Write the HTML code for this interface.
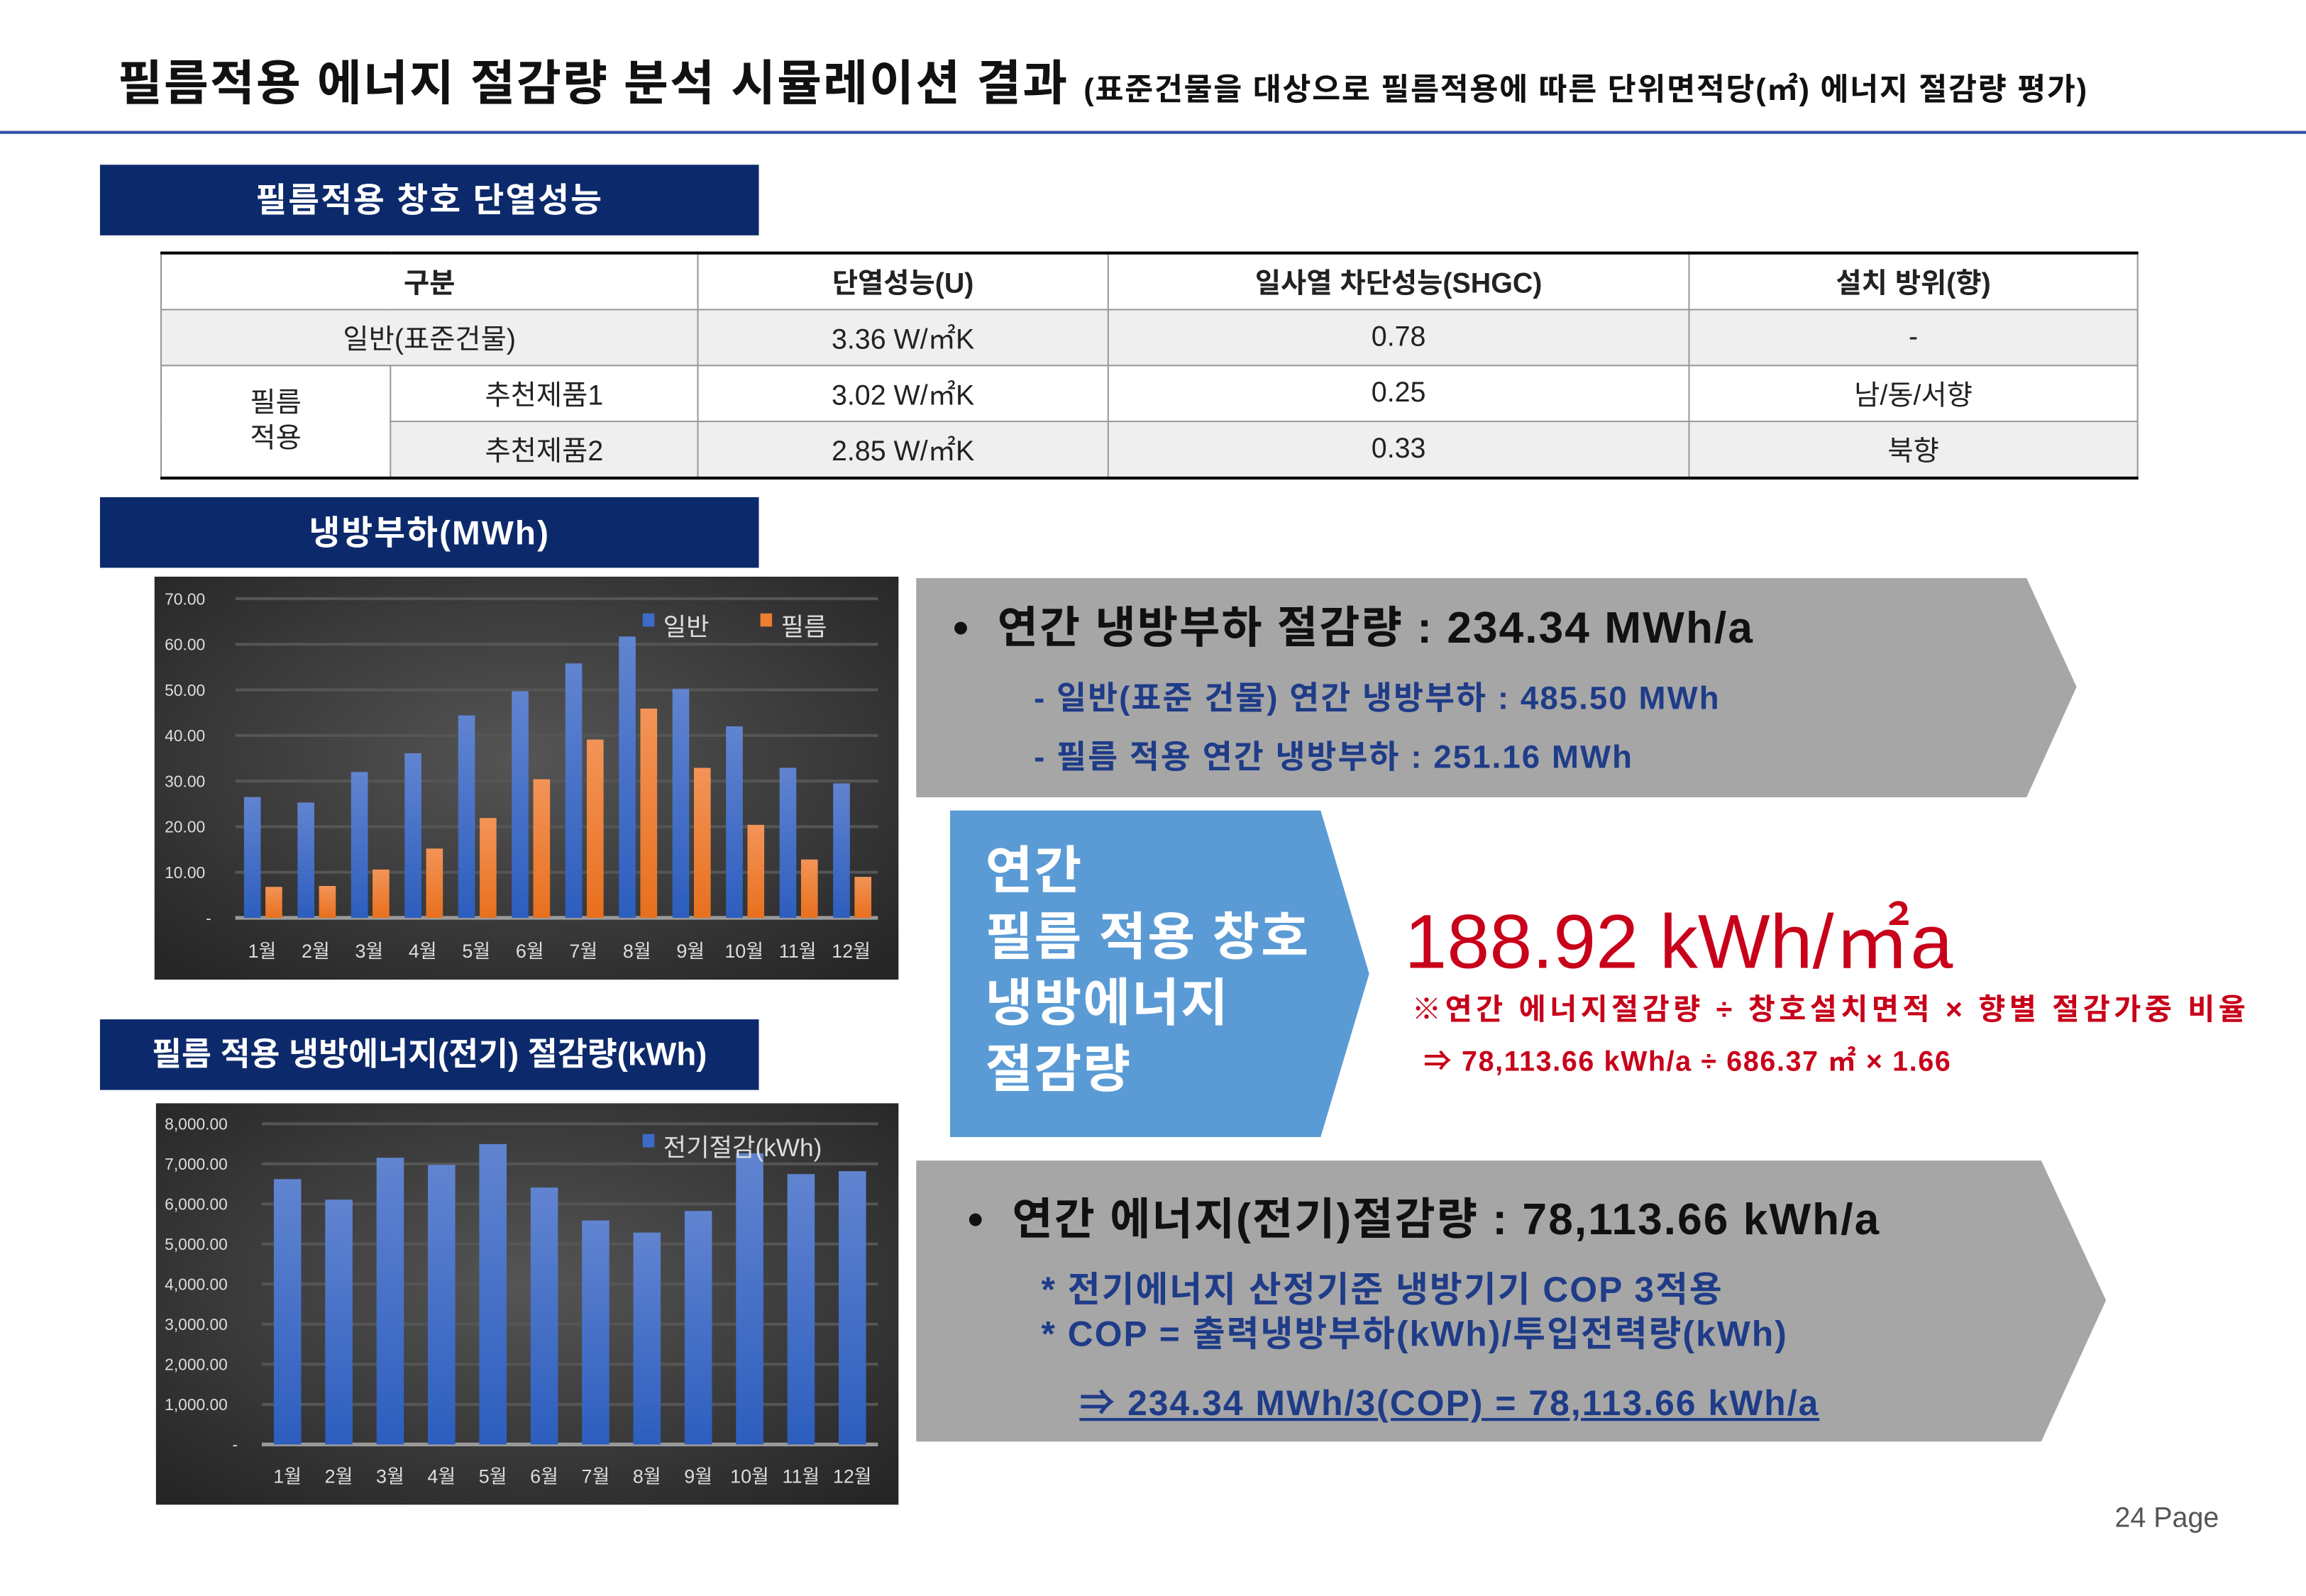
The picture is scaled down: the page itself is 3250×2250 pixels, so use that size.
<!DOCTYPE html>
<html><head><meta charset="utf-8">
<style>
html,body{margin:0;padding:0;background:#fff;}
body{width:3250px;height:2250px;overflow:hidden;position:relative;}
#page{position:absolute;left:0;top:0;width:1568px;height:1085px;transform-origin:0 0;transform:scale(2.0727,2.0737);font-family:"Liberation Sans","Noto Sans CJK KR",sans-serif;}
.abs{position:absolute;white-space:nowrap;}
.hdr{position:absolute;left:68px;width:448px;height:48px;background:#0c2a6b;color:#fff;font-weight:bold;font-size:23px;text-align:center;line-height:48px;letter-spacing:1px;}
table{border-collapse:collapse;position:absolute;left:109px;top:171px;width:1344px;table-layout:fixed;font-size:19px;color:#222;border-top:2px solid #000;border-bottom:2px solid #000;}
td{border:1px solid #999;text-align:center;height:37px;padding:0;}
tr.g td{background:#efefef;}
th{font-weight:bold;height:37px;border:1px solid #999;border-top:none;font-size:19px;padding:0;}
</style></head><body>
<div id="page">
<div class="abs" style="left:80px;top:30px;font-size:33px;font-weight:bold;color:#111;letter-spacing:1px;">필름적용 에너지 절감량 분석 시뮬레이션 결과 <span style="font-size:21px;letter-spacing:0.8px;">(표준건물을 대상으로 필름적용에 따른 단위면적당(㎡) 에너지 절감량 평가)</span></div>
<div class="abs" style="left:0;top:89px;width:1568px;height:2px;background:#2f4ea8;"></div>

<div class="hdr" style="top:112px;">필름적용 창호 단열성능</div>
<table>
<colgroup><col style="width:156px"><col style="width:209px"><col style="width:279px"><col style="width:395px"><col style="width:305px"></colgroup>
<tr><th colspan="2">구분</th><th>단열성능(U)</th><th>일사열 차단성능(SHGC)</th><th>설치 방위(향)</th></tr>
<tr class="g"><td colspan="2">일반(표준건물)</td><td>3.36 W/㎡K</td><td>0.78</td><td>-</td></tr>
<tr><td rowspan="2" style="line-height:24px;">필름<br>적용</td><td>추천제품1</td><td>3.02 W/㎡K</td><td>0.25</td><td>남/동/서향</td></tr>
<tr class="g"><td>추천제품2</td><td>2.85 W/㎡K</td><td>0.33</td><td>북향</td></tr>
</table>

<div class="hdr" style="top:338px;">냉방부하(MWh)</div>
<svg class="abs" id="c1" style="left:105px;top:392px;" width="506" height="274"></svg>

<div class="hdr" style="top:693px;font-size:22px;letter-spacing:0;">필름 적용 냉방에너지(전기) 절감량(kWh)</div>
<svg class="abs" id="c2" style="left:106px;top:750px;" width="505" height="273"></svg>

<svg class="abs" style="left:0;top:0;" width="1568" height="1085">
<polygon points="623,393 1378,393 1412,467 1378,542 623,542" fill="#a6a6a6"/>
<polygon points="646,551 898,551 931,662 898,773 646,773" fill="#5b9bd5"/>
<polygon points="623,789 1388,789 1432,884 1388,980 623,980" fill="#a6a6a6"/>
</svg>

<div class="abs" style="left:648px;top:402px;font-size:30px;font-weight:bold;color:#111;letter-spacing:1px;">•&nbsp; 연간 냉방부하 절감량 : 234.34 MWh/a</div>
<div class="abs" style="left:703px;top:457px;font-size:22px;font-weight:bold;color:#1f3c88;letter-spacing:1px;">- 일반(표준 건물) 연간 냉방부하 : 485.50 MWh</div>
<div class="abs" style="left:703px;top:497px;font-size:22px;font-weight:bold;color:#1f3c88;letter-spacing:1px;">- 필름 적용 연간 냉방부하 : 251.16 MWh</div>

<div class="abs" style="left:670px;top:570px;font-size:35px;line-height:45px;font-weight:bold;color:#fff;letter-spacing:1px;">연간<br>필름 적용 창호<br>냉방에너지<br>절감량</div>

<div class="abs" style="left:955px;top:598px;font-size:52px;color:#c8001a;">188.92 kWh/㎡a</div>
<div class="abs" style="left:960px;top:670px;font-size:20px;font-weight:bold;color:#c8001a;letter-spacing:2.6px;">※연간 에너지절감량 ÷ 창호설치면적 × 향별 절감가중 비율</div>
<div class="abs" style="left:968px;top:707px;font-size:19px;font-weight:bold;color:#c8001a;letter-spacing:0.8px;">⇒ 78,113.66 kWh/a ÷ 686.37 ㎡ × 1.66</div>

<div class="abs" style="left:658px;top:804px;font-size:30px;font-weight:bold;color:#111;letter-spacing:1px;">•&nbsp; 연간 에너지(전기)절감량 : 78,113.66 kWh/a</div>
<div class="abs" style="left:708px;top:863px;font-size:24px;font-weight:bold;color:#1f3c88;line-height:30px;letter-spacing:1px;">* 전기에너지 산정기준 냉방기기 COP 3적용<br>* COP = 출력냉방부하(kWh)/투입전력량(kWh)</div>
<div class="abs" style="left:734px;top:934px;font-size:24px;font-weight:bold;color:#1f3c88;text-decoration:underline;letter-spacing:1px;">⇒ 234.34 MWh/3(COP) = 78,113.66 kWh/a</div>

<div class="abs" style="left:1438px;top:1022px;font-size:19px;color:#555;">24 Page</div>
</div>

<script>
const months = ["1월","2월","3월","4월","5월","6월","7월","8월","9월","10월","11월","12월"];
const normalLoad = [26.5,25.3,32.0,36.1,44.4,49.7,55.8,61.7,50.2,42.0,32.9,29.5];
const filmLoad = [6.8,7.0,10.6,15.2,21.9,30.4,39.1,45.9,32.9,20.4,12.8,9.0];
const loadTicks = ["-","10.00","20.00","30.00","40.00","50.00","60.00","70.00"];
const elecSaving = [6620,6108,7153,6976,7495,6410,5588,5286,5825,7265,6745,6818];
const elecTicks = ["-","1,000.00","2,000.00","3,000.00","4,000.00","5,000.00","6,000.00","7,000.00","8,000.00"];

const NS="http://www.w3.org/2000/svg";
function mk(parent,tag,attrs,txt){const e=document.createElementNS(NS,tag);for(const k in attrs)e.setAttribute(k,attrs[k]);if(txt!==undefined)e.textContent=txt;parent.appendChild(e);return e;}
function defs(svg,id){
  const d=mk(svg,"defs",{});
  const bg=mk(d,"radialGradient",{id:id+"bg",cx:"0.5",cy:"0.45",r:"0.7"});
  mk(bg,"stop",{offset:"0","stop-color":"#555"});mk(bg,"stop",{offset:"1","stop-color":"#262626"});
  const b=mk(d,"linearGradient",{id:id+"blue",x1:0,y1:0,x2:0,y2:1});
  mk(b,"stop",{offset:"0","stop-color":"#6184d0"});mk(b,"stop",{offset:"1","stop-color":"#2d5ebe"});
  const o=mk(d,"linearGradient",{id:id+"orange",x1:0,y1:0,x2:0,y2:1});
  mk(o,"stop",{offset:"0","stop-color":"#f39458"});mk(o,"stop",{offset:"1","stop-color":"#e8701e"});
  mk(svg,"rect",{x:0,y:0,width:svg.getAttribute("width"),height:svg.getAttribute("height"),fill:"url(#"+id+"bg)"});
}
(function(){
  const svg=document.getElementById("c1");defs(svg,"a");
  const x0=55,x1=492,y0=232,yTop=15,max=70;
  const y=v=>y0-(v/max)*(y0-yTop);
  const gw=(x1-x0)/months.length;
  loadTicks.forEach((t,i)=>{const v=i*10;
    const l=mk(svg,"line",{x1:x0,x2:x1,y1:y(v),y2:y(v),stroke:i==0?"#9a9a9a":"#555","stroke-width":i==0?2.5:2});
    
    
    const tx=mk(svg,"text",{x:i==0?35:7,y:y(v)+4,"font-size":11,fill:"#ddd"},t);
    
    
  });
  months.forEach((m,i)=>{
    const gx=x0+i*gw;
    const r1=mk(svg,"rect",{x:gx+5.9,y:y(normalLoad[i]),width:11.4,height:y0-y(normalLoad[i]),fill:"url(#ablue)"});
    
    
    const r2=mk(svg,"rect",{x:gx+20.5,y:y(filmLoad[i]),width:11.4,height:y0-y(filmLoad[i]),fill:"url(#aorange)"});
    
    
    const t=mk(svg,"text",{x:gx+gw/2,y:259,"font-size":13,fill:"#ddd","text-anchor":"middle"},m);
    
    
  });
  const g=mk(svg,"g",{});
  
  
  mk(g,"rect",{x:332,y:25,width:8,height:9,fill:"#3d6cc8"});
  mk(g,"text",{x:346,y:40,"font-size":17,fill:"#ddd"},"일반");
  mk(g,"rect",{x:412,y:25,width:8,height:9,fill:"#ed7d31"});
  mk(g,"text",{x:426,y:40,"font-size":17,fill:"#ddd"},"필름");
})();
(function(){
  const svg=document.getElementById("c2");defs(svg,"b");
  const x0=72,x1=491,y0=232,yTop=14,max=8000;
  const y=v=>y0-(v/max)*(y0-yTop);
  const gw=(x1-x0)/months.length;
  elecTicks.forEach((t,i)=>{const v=i*1000;
    const l=mk(svg,"line",{x1:x0,x2:x1,y1:y(v),y2:y(v),stroke:i==0?"#9a9a9a":"#555","stroke-width":i==0?2.5:2});
    
    
    const tx=mk(svg,"text",{x:i==0?52:6,y:y(v)+4,"font-size":11,fill:"#ddd"},t);
    
    
  });
  months.forEach((m,i)=>{
    const gx=x0+i*gw;
    const r=mk(svg,"rect",{x:gx+8.2,y:y(elecSaving[i]),width:18.6,height:y0-y(elecSaving[i]),fill:"url(#bblue)"});
    
    
    const t=mk(svg,"text",{x:gx+gw/2,y:258,"font-size":13,fill:"#ddd","text-anchor":"middle"},m);
    
    
  });
  const g=mk(svg,"g",{});
  
  
  mk(g,"rect",{x:331,y:21,width:8,height:9,fill:"#3d6cc8"});
  mk(g,"text",{x:345,y:36,"font-size":17,fill:"#ddd"},"전기절감(kWh)");
})();
</script>
</body></html>
